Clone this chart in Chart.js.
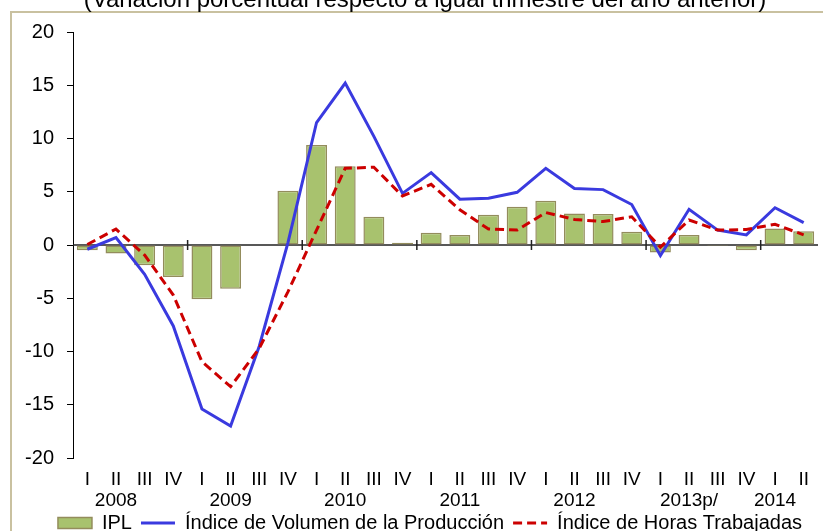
<!DOCTYPE html>
<html>
<head>
<meta charset="utf-8">
<script src="https://cdn.jsdelivr.net/npm/chart.js@4.4.1/dist/chart.umd.min.js"></script>
<style>
  html, body { margin: 0; padding: 0; background: #ffffff; overflow: hidden; }
  #wrap { position: relative; width: 823px; height: 531px; }
</style>
</head>
<body>
<div id="wrap"><canvas id="chart"></canvas></div>
<script>
const titleText = "(Variación porcentual respecto a igual trimestre del año anterior)"

const quarters = [
  "I", "II", "III", "IV", "I", "II", "III", "IV", "I", "II", "III", "IV",
  "I", "II", "III", "IV", "I", "II", "III", "IV", "I", "II", "III", "IV",
  "I", "II",
]
const years = [
  "", "2008", "", "", "", "2009", "", "", "", "2010", "", "", "",
  "2011", "", "", "", "2012", "", "", "", "2013p/", "", "", "2014", "",
]

const ipl = [
  -0.5, -0.8, -1.9, -3.0, -5.1, -4.1, 0, 5.1, 9.4, 7.4, 2.65, 0.2, 1.15,
  0.95, 2.85, 3.6, 4.15, 2.95, 2.9, 1.25, -0.7, 0.95, -0.1, -0.5, 1.55, 1.3,
]
const volumenProduccion = [
  -0.4, 0.7, -2.75, -7.6, -15.4, -17.0, -9.5, 0.2, 11.5, 15.2, 10.2, 4.85,
  6.8, 4.3, 4.4, 4.95, 7.2, 5.3, 5.2, 3.8, -1.0, 3.35, 1.4, 0.95, 3.5, 2.1,
]
const horasTrabajadas = [
  0.05, 1.5, -0.95, -4.7, -10.95, -13.3, -9.7, -4.4, 1.4, 7.2, 7.3, 4.6,
  5.7, 3.3, 1.5, 1.4, 3.05, 2.4, 2.2, 2.65, -0.2, 2.35, 1.4, 1.45, 1.95, 0.95,
]

const yTicks = [20, 15, 10, 5, 0, -5, -10, -15, -20]

const FONT = "'Liberation Sans', Arial, sans-serif"
const LEGEND_SIZE = 20
const LEGEND_PAD = 9
const X_AXIS_HEIGHT = 54
// legend box height in Chart.js: item height + padding + 10
const LEGEND_HEIGHT = LEGEND_SIZE + LEGEND_PAD + 10

// frame, title, zero line, year separators, legend placement
const decorations = {
  id: "decorations",
  afterLayout(chart) {
    const legend = chart.legend
    if (!legend) return
    const dy = 523 - LEGEND_PAD - LEGEND_SIZE / 2 - legend.top
    const dx = 21
    legend.top += dy
    legend.bottom += dy
    legend.left += dx
    legend.right += dx
  },
  beforeDraw(chart) {
    const ctx = chart.ctx
    ctx.save()
    ctx.fillStyle = "#ffffff"
    ctx.fillRect(0, 0, chart.width, chart.height)
    ctx.strokeStyle = "#c9c1a0"
    ctx.lineWidth = 2
    ctx.strokeRect(11, 12, chart.width + 20, chart.height + 20)
    ctx.restore()
  },
  beforeDatasetsDraw(chart) {
    const { ctx, chartArea, scales } = chart
    const y0 = scales.y.getPixelForValue(0)
    ctx.save()
    ctx.strokeStyle = "#222222"
    ctx.lineWidth = 1.5
    ctx.beginPath()
    ctx.moveTo(chartArea.left, y0)
    ctx.lineTo(chartArea.right, y0)
    quarters.forEach((q, i) => {
      if (i > 0 && q === "I") {
        const x =
          (scales.x.getPixelForValue(i - 1) + scales.x.getPixelForValue(i)) / 2
        ctx.moveTo(x, y0 - 5)
        ctx.lineTo(x, y0 + 5)
      }
    })
    ctx.stroke()
    ctx.restore()
  },
  afterDraw(chart) {
    const ctx = chart.ctx
    ctx.save()
    ctx.fillStyle = "#000000"
    ctx.font = "24px " + FONT
    ctx.textAlign = "center"
    ctx.textBaseline = "alphabetic"
    ctx.fillText(titleText, 425, 7)
    ctx.restore()
  },
}

new Chart(document.getElementById("chart"), {
  data: {
    labels: quarters.map((q, i) => [q, years[i]]),
    datasets: [
      {
        type: "bar",
        label: "IPL",
        data: ipl,
        backgroundColor: "#a8c26e",
        borderColor: "#938c5c",
        borderWidth: 1.5,
        borderSkipped: false,
        categoryPercentage: 1,
        barPercentage: 0.73,
        pointStyle: "rect",
        order: 3,
      },
      {
        type: "line",
        label: "Índice de Volumen de la Producción",
        data: volumenProduccion,
        borderColor: "#3a3adf",
        backgroundColor: "#3a3adf",
        borderWidth: 3,
        tension: 0,
        pointRadius: 0,
        pointStyle: "line",
        order: 2,
      },
      {
        type: "line",
        label: "Índice de Horas Trabajadas",
        data: horasTrabajadas,
        borderColor: "#cc0000",
        backgroundColor: "#cc0000",
        borderWidth: 3,
        borderDash: [9, 5],
        tension: 0,
        pointRadius: 0,
        pointStyle: "line",
        order: 1,
      },
    ],
  },
  options: {
    responsive: true,
    maintainAspectRatio: false,
    devicePixelRatio: 1,
    animation: false,
    layout: {
      padding: {
        top: 32,
        left: 0,
        right: 5,
        bottom: 531 - 458 - X_AXIS_HEIGHT - LEGEND_HEIGHT,
      },
    },
    scales: {
      x: {
        type: "category",
        offset: true,
        grid: { display: false, drawTicks: false },
        border: { display: false },
        ticks: {
          color: "#000000",
          font: { family: FONT, size: 19, lineHeight: 1.1 },
          padding: 11,
          autoSkip: false,
          maxRotation: 0,
        },
        afterFit(scale) {
          scale.height = X_AXIS_HEIGHT
        },
      },
      y: {
        min: -20,
        max: 20,
        afterBuildTicks(scale) {
          scale.ticks = yTicks.map((v) => ({ value: v }))
        },
        grid: {
          drawOnChartArea: false,
          color: "#000000",
          tickLength: 6,
        },
        border: { display: true, color: "#000000", width: 1 },
        ticks: {
          color: "#000000",
          font: { family: FONT, size: 20 },
          padding: 13,
        },
        afterFit(scale) {
          scale.width = 73
        },
      },
    },
    plugins: {
      title: { display: false },
      tooltip: { enabled: false },
      legend: {
        display: true,
        position: "bottom",
        labels: {
          color: "#000000",
          font: { family: FONT, size: LEGEND_SIZE },
          usePointStyle: true,
          pointStyleWidth: 34,
          boxHeight: 11,
          padding: LEGEND_PAD,
          sort: (a, b) => a.datasetIndex - b.datasetIndex,
          generateLabels(chart) {
            const items = Chart.defaults.plugins.legend.labels.generateLabels(chart)
            items.forEach((item) => {
              const ds = chart.data.datasets[item.datasetIndex]
              item.lineWidth = ds.borderWidth
              item.strokeStyle = ds.borderColor
              item.lineDash = ds.borderDash || []
              if (ds.type === "bar") item.fillStyle = ds.backgroundColor
            })
            return items
          },
        },
      },
    },
  },
  plugins: [decorations],
})
</script>
</body>
</html>
